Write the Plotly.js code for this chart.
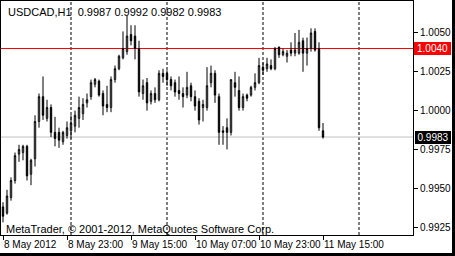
<!DOCTYPE html>
<html>
<head>
<meta charset="utf-8">
<script src="https://cdn.plot.ly/plotly-3.0.1.min.js"></script>
<style>
html,body{margin:0;padding:0;background:#000;width:455px;height:256px;overflow:hidden;}
#chart{width:452px;height:253px;background:#fff;}
</style>
</head>
<body>
<div id="chart"></div>
<script>
// USDCAD H1, first bar 8 May 2012 07:00, one bar per hour
const startHour = 7;
const open = [
0.9938,0.9934,0.9944,0.9955,0.9972,0.9973,0.9977,0.9959,0.9969,0.9993,
1.0009,0.9995,1.0002,0.9986,0.9986,0.9980,0.9984,0.9987,0.9990,0.9995,
0.9998,1.0005,1.0009,1.0017,1.0019,1.0011,1.0004,1.0002,1.0020,1.0027,
1.0034,1.0038,1.0049,1.0048,1.0040,1.0011,1.0018,1.0006,1.0011,1.0007,
1.0024,1.0024,1.0020,1.0018,1.0013,1.0011,1.0010,1.0016,1.0009,1.0006,
1.0002,1.0002,1.0018,1.0024,1.0009,0.9987,0.9989,0.9986,1.0018,1.0013,
1.0002,1.0010,1.0010,1.0015,1.0018,1.0028,1.0027,1.0029,1.0027,1.0041,
1.0036,1.0035,1.0039,1.0037,1.0037,1.0045,1.0037,1.0040,1.0051,1.0040,
0.9987];
const high = [
0.9941,0.9949,0.9957,0.9973,0.9978,0.9978,0.9978,0.9969,0.9997,1.0011,
1.0022,1.0007,1.0004,0.9996,0.9989,0.9987,0.9993,0.9997,1.0000,1.0009,
1.0008,1.0011,1.0020,1.0021,1.0020,1.0013,1.0016,1.0022,1.0029,1.0036,
1.0051,1.0061,1.0055,1.0055,1.0045,1.0020,1.0021,1.0013,1.0015,1.0026,
1.0027,1.0026,1.0022,1.0020,1.0022,1.0015,1.0025,1.0018,1.0013,1.0008,
1.0007,1.0028,1.0029,1.0026,1.0011,0.9990,0.9995,1.0020,1.0025,1.0022,
1.0011,1.0011,1.0016,1.0024,1.0034,1.0031,1.0034,1.0033,1.0041,1.0041,
1.0040,1.0039,1.0044,1.0050,1.0052,1.0047,1.0047,1.0053,1.0053,1.0044,
0.9992];
const low = [
0.9928,0.9933,0.9942,0.9953,0.9967,0.9968,0.9955,0.9952,0.9964,0.9989,
0.9994,0.9993,0.9983,0.9977,0.9976,0.9978,0.9982,0.9982,0.9986,0.9989,
0.9994,1.0002,1.0007,1.0015,1.0009,0.9997,0.9999,0.9999,1.0018,1.0026,
1.0033,1.0036,1.0042,1.0033,1.0009,1.0007,1.0000,1.0004,1.0005,1.0006,
1.0018,1.0016,1.0013,1.0009,1.0007,1.0002,1.0008,1.0006,1.0000,0.9991,
0.9993,1.0000,1.0015,1.0005,0.9978,0.9978,0.9975,0.9984,1.0009,1.0000,
1.0000,1.0006,1.0009,1.0013,1.0017,1.0023,1.0025,1.0026,1.0026,1.0034,
1.0035,1.0031,1.0035,1.0035,1.0036,1.0025,1.0029,1.0038,1.0038,0.9987,
0.9982];
const close = [
0.9932,0.9945,0.9955,0.9971,0.9975,0.9977,0.9958,0.9968,0.9993,1.0009,
0.9997,1.0002,0.9986,0.9982,0.9981,0.9986,0.9989,0.9992,0.9997,1.0002,
1.0004,1.0007,1.0018,1.0020,1.0010,1.0003,1.0002,1.0020,1.0027,1.0035,
1.0040,1.0048,1.0045,1.0040,1.0012,1.0016,1.0005,1.0011,1.0007,1.0024,
1.0022,1.0020,1.0016,1.0012,1.0011,1.0009,1.0015,1.0009,1.0003,0.9994,
1.0004,1.0016,1.0024,1.0010,0.9986,0.9986,0.9986,1.0020,1.0015,1.0002,
1.0009,1.0008,1.0015,1.0018,1.0029,1.0026,1.0030,1.0027,1.0040,1.0036,
1.0038,1.0037,1.0037,1.0039,1.0044,1.0037,1.0040,1.0050,1.0039,0.9989,
0.9983];
const tickIdx = [0,16,32,48,64,80];
const tickText = ['8 May 2012','8 May 23:00','9 May 15:00','10 May 07:00','10 May 23:00','11 May 15:00'];
const yTicks = [0.9925,0.9950,0.9975,1.0000,1.0025,1.0050];
const askLevel = 1.0040;
const bidLevel = 0.9983;
const symbolTitle = 'USDCAD,H1';

const xIdx = open.map((_, i) => i);
const n = open.length;
const fmt = v => v.toFixed(4);

// day separators (midnight)
const seps = [];
for (let i = 0; i < 103; i++) if ((startHour + i) % 24 === 0) seps.push(i);

const shapes = seps.map(s => ({
  type:'line', xref:'x', yref:'paper', x0:s, x1:s, y0:0, y1:1,
  line:{color:'#000', width:1, dash:'3px,2px'}, layer:'below'
}));
shapes.push({type:'line', xref:'paper', yref:'y', x0:0, x1:1, y0:askLevel, y1:askLevel,
  line:{color:'#ff0000', width:1}, layer:'below'});
shapes.push({type:'line', xref:'paper', yref:'y', x0:0, x1:1, y0:bidLevel, y1:bidLevel,
  line:{color:'#c0c0c0', width:1}, layer:'below'});

const FONT = 'Liberation Sans, Arial, sans-serif';

const trace = {
  type:'candlestick', x:xIdx, open:open, high:high, low:low, close:close,
  increasing:{line:{color:'#000', width:1}, fillcolor:'#fff'},
  decreasing:{line:{color:'#000', width:1}, fillcolor:'#000'},
  whiskerwidth:0, hoverinfo:'skip'
};

const last = n - 1;
const annotations = [
  {xref:'paper', yref:'paper', x:0, y:1, xanchor:'left', yanchor:'top', xshift:5, yshift:-3,
   showarrow:false, text: symbolTitle + '\u00a0\u00a0' + [open[last],high[last],low[last],close[last]].map(fmt).join(' '),
   font:{family:FONT, size:11, color:'#000'}},
  {xref:'paper', yref:'paper', x:0, y:0, xanchor:'left', yanchor:'bottom', xshift:3, yshift:-2,
   showarrow:false, text:'MetaTrader, © 2001-2012, MetaQuotes Software Corp.',
   font:{family:FONT, size:11, color:'#000'}},
  {xref:'paper', yref:'y', x:1, y:askLevel, xanchor:'left', yanchor:'middle', xshift:1,
   showarrow:false, text:fmt(askLevel), bgcolor:'#ff0000', bordercolor:'#ff0000', borderwidth:1, borderpad:0,
   width:35, align:'center', font:{family:FONT, size:10, color:'#fff'}},
  {xref:'paper', yref:'y', x:1, y:bidLevel, xanchor:'left', yanchor:'middle', xshift:2,
   showarrow:false, text:fmt(bidLevel), bgcolor:'#000', bordercolor:'#000', borderwidth:1, borderpad:0,
   width:34, align:'center', font:{family:FONT, size:10, color:'#fff'}}
];

const layout = {
  width:452, height:253,
  margin:{l:1, r:39, t:1, b:18, pad:0},
  paper_bgcolor:'#fff', plot_bgcolor:'#fff',
  showlegend:false, hovermode:false, boxgap:0.5,
  font:{family:FONT, size:10, color:'#000'},
  xaxis:{
    type:'linear', range:[-0.5, 102.5], rangeslider:{visible:false},
    showgrid:false, zeroline:false, showline:true, mirror:true, linecolor:'#000', linewidth:1,
    tickmode:'array', tickvals:tickIdx, ticktext:tickText, tickangle:0, automargin:false,
    ticks:'outside', ticklen:4, tickcolor:'#000', ticklabelposition:'outside right',
    tickfont:{family:FONT, size:10, color:'#000'}
  },
  yaxis:{
    side:'right', range:[0.99199, 1.00706], automargin:false,
    showgrid:false, zeroline:false, showline:true, mirror:true, linecolor:'#000', linewidth:1,
    tickmode:'array', tickvals:yTicks, ticktext:yTicks.map(fmt),
    ticks:'outside', ticklen:4, tickcolor:'#000',
    tickfont:{family:FONT, size:10, color:'#000'}
  },
  shapes:shapes, annotations:annotations
};

Plotly.newPlot('chart', [trace], layout, {displayModeBar:false, staticPlot:true});
</script>
</body>
</html>
